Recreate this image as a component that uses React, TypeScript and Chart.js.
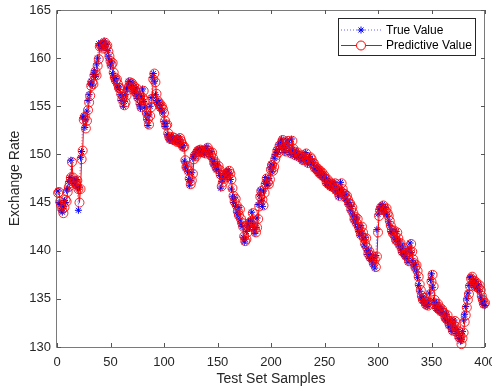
import React, { useEffect, useRef } from "react";
import { Chart, registerables } from "chart.js";

Chart.register(...registerables);

const xTicks = [0, 50, 100, 150, 200, 250, 300, 350, 400];
const yTicks = [130, 135, 140, 145, 150, 155, 160, 165];

const trueValues = [
  146.2, 145.0, 144.8, 144.2, 144.0, 144.6, 145.2, 145.0, 146.3, 146.5,
  147.2, 147.6, 149.4, 147.5, 147.0, 147.3, 146.8, 147.4, 146.5, 144.2,
  146.6, 149.7, 150.3, 153.8, 154.0, 152.8, 153.6, 154.5, 155.6, 156.2,
  157.3, 157.6, 157.2, 158.3, 158.7, 158.1, 159.4, 160.0, 161.5, 161.3,
  161.6, 161.0, 161.5, 161.8, 161.2, 161.4, 160.8, 160.2, 159.8, 159.2,
  159.6, 158.4, 158.0, 157.6, 157.9, 157.2, 156.8, 157.0, 156.2, 155.6,
  156.1, 155.0, 155.5, 156.2, 156.8, 157.0, 157.6, 157.3, 157.5, 156.9,
  157.2, 156.6, 156.3, 156.9, 155.8, 156.2, 155.2, 154.8, 156.0, 156.8,
  155.5, 154.9, 154.2, 153.6, 153.0, 154.1, 155.0, 155.9, 158.0, 158.4,
  157.6, 156.2, 155.6, 155.2, 155.4, 154.8, 155.1, 154.6, 154.3, 153.4,
  152.9, 153.2, 152.1, 151.8, 151.5, 151.6, 151.9, 151.4, 151.7, 151.5,
  151.3, 151.6, 151.2, 151.8, 151.4, 151.0, 150.7, 150.9, 149.3, 148.6,
  148.9, 148.2, 147.4, 146.8, 147.3, 148.1, 149.6, 150.0, 149.8, 150.3,
  150.5, 150.2, 150.6, 150.4, 150.1, 150.5, 150.3, 150.0, 150.6, 150.8,
  150.4, 150.2, 149.8, 150.3, 149.5, 149.0, 149.3, 148.6, 148.4, 148.9,
  148.3, 147.8, 146.5, 147.2, 147.6, 148.0, 147.6, 148.2, 147.8, 148.4,
  148.0, 147.4, 146.4, 145.6, 145.0, 145.5, 144.6, 144.0, 143.6, 144.5,
  143.2, 142.8, 142.5, 141.4, 140.9, 141.2, 142.0, 142.6, 143.0, 142.4,
  143.2, 144.0, 142.8, 142.2, 141.8, 142.4, 143.4, 144.8, 145.8, 146.3,
  145.2, 144.6, 146.2, 147.0, 147.6, 147.0, 146.8, 147.5, 148.6, 149.0,
  148.2, 148.8, 149.6, 150.0, 150.5, 150.2, 151.0, 150.6, 151.3, 151.6,
  151.0, 150.6, 150.2, 150.8, 151.5, 151.2, 150.4, 150.0, 151.6, 150.5,
  150.2, 149.8, 150.0, 150.3, 149.8, 149.6, 150.0, 149.7, 149.3, 149.6,
  149.8, 150.2, 149.4, 149.0, 149.3, 149.8, 149.5, 149.0, 149.2, 148.5,
  148.8, 148.3, 148.6, 148.0, 148.4, 147.8, 148.2, 147.6, 147.9, 147.4,
  147.0, 147.5, 146.8, 147.2, 146.6, 147.0, 146.5, 146.8, 147.1, 146.2,
  146.6, 146.0, 145.6, 146.3, 147.1, 146.4, 145.8, 146.0, 145.4, 145.8,
  145.2, 144.8, 145.0, 144.2, 144.6, 143.8, 143.2, 143.6, 142.8, 143.4,
  142.4, 142.0, 141.6, 142.6, 141.8, 141.2, 140.6, 141.4, 140.2, 139.6,
  140.0, 139.2, 139.6, 139.0, 138.6, 139.2, 138.2, 139.5, 142.2, 143.8,
  144.3, 144.6, 144.2, 144.8, 144.4, 144.0, 144.5, 143.8, 143.6, 143.0,
  142.6, 142.0, 141.8, 142.2, 141.4, 141.0, 142.0, 141.2, 140.6, 140.9,
  140.2, 139.8, 140.4, 139.6, 139.4, 139.9, 139.2, 138.8, 140.2, 140.8,
  139.8, 139.0, 138.6, 138.2, 138.6, 137.8, 137.2, 136.4, 135.8, 135.2,
  134.8, 135.2, 134.6, 134.3, 134.8, 134.2, 134.5, 135.6, 137.0, 137.6,
  136.2, 134.8, 134.4, 134.0, 134.6, 133.8, 134.2, 133.6, 134.0, 133.5,
  133.6, 133.0, 132.8, 133.4, 132.6, 132.2, 132.8, 132.0, 131.6, 132.4,
  132.8, 132.0, 131.4, 131.8, 130.9, 131.2, 130.6, 130.8, 131.6, 132.8,
  133.4, 134.2, 135.0, 135.6, 136.4, 137.2, 137.3, 136.6, 137.0, 136.2,
  136.8, 136.4, 136.0, 136.5, 135.8, 135.2, 134.8, 134.4, 134.7, 134.3,
];

const predictedValues = [
  146.0, 146.1, 145.1, 144.7, 144.3, 143.9, 144.5, 145.3, 145.1, 146.1,
  146.6, 147.0, 147.6, 149.2, 147.6, 147.1, 147.2, 146.9, 147.3, 146.4,
  145.0, 146.4, 149.5, 150.4, 153.6, 153.9, 152.7, 153.5, 154.6, 155.4,
  156.1, 157.1, 157.5, 157.3, 158.2, 158.6, 158.2, 159.2, 159.9, 161.2,
  161.3, 161.4, 161.0, 161.4, 161.6, 161.2, 161.3, 160.7, 160.2, 159.7,
  159.3, 159.5, 158.5, 158.0, 157.7, 157.8, 157.3, 156.9, 156.9, 156.3,
  155.7, 156.0, 155.1, 155.4, 156.1, 156.7, 157.0, 157.5, 157.3, 157.4,
  156.9, 157.1, 156.6, 156.4, 156.8, 155.9, 156.1, 155.3, 154.9, 155.9,
  156.6, 155.6, 154.9, 154.3, 153.7, 153.1, 154.0, 154.9, 155.8, 157.8,
  158.4, 157.5, 156.3, 155.6, 155.3, 155.3, 154.9, 155.0, 154.7, 154.3,
  153.5, 153.0, 153.1, 152.2, 151.8, 151.6, 151.6, 151.8, 151.5, 151.7,
  151.5, 151.3, 151.5, 151.3, 151.7, 151.4, 151.1, 150.8, 150.8, 149.4,
  148.7, 148.8, 148.3, 147.5, 146.9, 147.3, 148.0, 149.5, 149.9, 149.8,
  150.2, 150.4, 150.3, 150.5, 150.4, 150.2, 150.4, 150.3, 150.1, 150.5,
  150.7, 150.4, 150.2, 149.9, 150.2, 149.6, 149.1, 149.2, 148.7, 148.5,
  148.8, 148.4, 147.9, 146.7, 147.1, 147.5, 147.9, 147.7, 148.1, 147.9,
  148.3, 148.0, 147.4, 146.5, 145.7, 145.1, 145.4, 144.7, 144.1, 143.7,
  144.3, 143.3, 142.9, 142.5, 141.5, 141.0, 141.2, 141.9, 142.5, 142.9,
  142.5, 143.1, 143.9, 142.9, 142.3, 141.9, 142.4, 143.3, 144.6, 145.6,
  146.2, 145.3, 144.7, 146.0, 146.9, 147.5, 147.1, 146.9, 147.4, 148.4,
  148.9, 148.3, 148.7, 149.5, 149.9, 150.4, 150.2, 150.9, 150.6, 151.2,
  151.5, 151.1, 150.7, 150.3, 150.7, 151.4, 151.2, 150.5, 150.1, 151.4,
  150.6, 150.3, 149.9, 150.0, 150.2, 149.9, 149.7, 149.9, 149.7, 149.4,
  149.5, 149.7, 150.1, 149.5, 149.1, 149.3, 149.7, 149.5, 149.1, 149.1,
  148.6, 148.7, 148.4, 148.5, 148.1, 148.3, 147.9, 148.1, 147.7, 147.8,
  147.5, 147.1, 147.4, 146.9, 147.1, 146.7, 146.9, 146.6, 146.8, 147.0,
  146.3, 146.5, 146.1, 145.7, 146.2, 147.0, 146.4, 145.9, 145.9, 145.5,
  145.7, 145.3, 144.9, 144.9, 144.3, 144.5, 143.9, 143.3, 143.5, 142.9,
  143.3, 142.5, 142.1, 141.7, 142.5, 141.9, 141.3, 140.7, 141.3, 140.3,
  139.7, 139.9, 139.3, 139.5, 139.1, 138.7, 139.1, 138.3, 139.4, 141.9,
  143.6, 144.2, 144.5, 144.3, 144.7, 144.4, 144.1, 144.4, 143.9, 143.6,
  143.1, 142.6, 142.1, 141.8, 142.1, 141.5, 141.1, 141.9, 141.3, 140.7,
  140.8, 140.3, 139.9, 140.3, 139.7, 139.5, 139.8, 139.3, 138.9, 140.0,
  140.7, 139.9, 139.1, 138.7, 138.3, 138.5, 137.9, 137.3, 136.5, 135.9,
  135.3, 134.9, 135.1, 134.7, 134.4, 134.7, 134.3, 134.5, 135.5, 136.8,
  137.5, 136.3, 134.9, 134.5, 134.1, 134.5, 133.9, 134.1, 133.7, 133.9,
  133.6, 133.5, 133.1, 132.9, 133.3, 132.7, 132.3, 132.7, 132.1, 131.7,
  132.3, 132.7, 132.1, 131.5, 131.7, 131.0, 131.1, 130.3, 130.9, 131.5,
  132.6, 133.3, 134.1, 134.9, 135.5, 136.3, 137.1, 137.3, 136.7, 136.9,
  136.3, 136.7, 136.4, 136.1, 136.4, 135.9, 135.3, 134.9, 134.5, 134.6,
];

const seriesNames = ["True Value", "Predictive Value"];
const AXIS_COLOR = "#262626";
const FONT = "'Liberation Sans', Arial, sans-serif";

const framePlugin = {
  id: "matlabFrame",
  beforeDatasetsDraw(chart: any) {
    const { ctx, chartArea, scales } = chart;
    const { left, right, top, bottom } = chartArea;
    ctx.save();
    ctx.strokeStyle = "#7a7a7a";
    ctx.lineWidth = 1;
    ctx.beginPath();
    ctx.rect(Math.round(left) - 0.5, Math.round(top) + 0.5, Math.round(right - left), Math.round(bottom - top));
    ctx.stroke();
    ctx.strokeStyle = "#555555";
    ctx.beginPath();
    const tl = 4;
    xTicks.forEach((v) => {
      const px = Math.round(scales.x.getPixelForValue(v)) + 0.5;
      ctx.moveTo(px, bottom);
      ctx.lineTo(px, bottom - tl);
      ctx.moveTo(px, top);
      ctx.lineTo(px, top + tl);
    });
    yTicks.forEach((v) => {
      const py = Math.round(scales.y.getPixelForValue(v)) + 0.5;
      ctx.moveTo(left, py);
      ctx.lineTo(left + tl, py);
      ctx.moveTo(right, py);
      ctx.lineTo(right - tl, py);
    });
    ctx.stroke();
    ctx.restore();
  },
};

const legendPlugin = {
  id: "matlabLegend",
  afterDraw(chart: any) {
    const { ctx } = chart;
    const bx = 338.5, by = 18.5, bw = 137, bh = 37;
    ctx.save();
    ctx.fillStyle = "#ffffff";
    ctx.fillRect(bx, by, bw, bh);
    ctx.strokeStyle = AXIS_COLOR;
    ctx.lineWidth = 1;
    ctx.strokeRect(bx, by, bw, bh);
    const rows = [30, 45.5];
    ctx.strokeStyle = "rgba(60,60,255,0.8)";
    ctx.setLineDash([1, 2]);
    ctx.beginPath();
    ctx.moveTo(341, rows[0]);
    ctx.lineTo(382, rows[0]);
    ctx.stroke();
    ctx.setLineDash([]);
    ctx.strokeStyle = "#0000ff";
    ctx.beginPath();
    const r = 3.5, cx = 361, cy = rows[0];
    ctx.moveTo(cx - r, cy); ctx.lineTo(cx + r, cy);
    ctx.moveTo(cx, cy - r); ctx.lineTo(cx, cy + r);
    const d = r * 0.707;
    ctx.moveTo(cx - d, cy - d); ctx.lineTo(cx + d, cy + d);
    ctx.moveTo(cx - d, cy + d); ctx.lineTo(cx + d, cy - d);
    ctx.stroke();
    ctx.strokeStyle = "#ff0000";
    ctx.beginPath();
    ctx.moveTo(341, rows[1]);
    ctx.lineTo(382, rows[1]);
    ctx.stroke();
    ctx.fillStyle = "#ffffff";
    ctx.beginPath();
    ctx.arc(361, rows[1], 4.5, 0, Math.PI * 2);
    ctx.fill();
    ctx.stroke();
    ctx.fillStyle = "#000000";
    ctx.font = `12px ${FONT}`;
    ctx.textAlign = "left";
    ctx.textBaseline = "middle";
    ctx.fillText(seriesNames[0], 386, rows[0] + 0.5);
    ctx.fillText(seriesNames[1], 386, rows[1] + 0.5);
    ctx.restore();
  },
};

export default function App() {
  const canvasRef = useRef<HTMLCanvasElement | null>(null);

  useEffect(() => {
    document.body.style.margin = "0";
    const canvas = canvasRef.current;
    if (!canvas) return;
    const chart = new Chart(canvas, {
      type: "line",
      data: {
        datasets: [
          {
            label: seriesNames[1],
            data: predictedValues.map((v, i) => ({ x: i + 1, y: v })),
            borderColor: "#ff0000",
            borderWidth: 1,
            pointStyle: "circle",
            pointRadius: 4.5,
            pointBorderColor: "rgba(255,0,0,0.85)",
            pointBackgroundColor: "rgba(0,0,0,0)",
            pointBorderWidth: 1,
            tension: 0,
            clip: false,
            order: 0,
          },
          {
            label: seriesNames[0],
            data: trueValues.map((v, i) => ({ x: i + 1, y: v })),
            borderColor: "rgba(60,60,255,0.8)",
            borderWidth: 1,
            borderDash: [1, 2],
            pointStyle: "star",
            pointRadius: 3.5,
            pointBorderColor: "#0000ff",
            pointBackgroundColor: "#0000ff",
            pointBorderWidth: 1,
            tension: 0,
            clip: false,
            order: 1,
          },
        ],
      },
      options: {
        animation: false,
        responsive: false,
        maintainAspectRatio: false,
        layout: { padding: { top: 10, right: 7, left: 0, bottom: 0 } },
        plugins: { legend: { display: false }, tooltip: { enabled: false } },
        scales: {
          x: {
            type: "linear",
            min: 0,
            max: 400,
            afterBuildTicks: (axis: any) => {
              axis.ticks = xTicks.map((v) => ({ value: v }));
            },
            afterFit: (axis: any) => {
              axis.height = 43;
              axis.paddingLeft = 0;
              axis.paddingRight = 0;
            },
            grid: { display: false, drawTicks: false },
            border: { display: false },
            ticks: {
              color: AXIS_COLOR,
              font: { family: FONT, size: 13 },
              padding: 8,
              maxRotation: 0,
              autoSkip: false,
            },
            title: {
              display: true,
              text: "Test Set Samples",
              color: AXIS_COLOR,
              font: { family: FONT, size: 14 },
              padding: { top: 0, bottom: 2 },
            },
          },
          y: {
            type: "linear",
            min: 130,
            max: 165,
            afterBuildTicks: (axis: any) => {
              axis.ticks = yTicks.map((v) => ({ value: v }));
            },
            afterFit: (axis: any) => {
              axis.width = 57;
              axis.paddingTop = 0;
              axis.paddingBottom = 0;
            },
            grid: { display: false, drawTicks: false },
            border: { display: false },
            ticks: {
              color: AXIS_COLOR,
              font: { family: FONT, size: 13 },
              padding: 6,
              autoSkip: false,
            },
            title: {
              display: true,
              text: "Exchange Rate",
              color: AXIS_COLOR,
              font: { family: FONT, size: 14 },
              padding: { top: 7, bottom: 0 },
            },
          },
        },
      },
      plugins: [framePlugin, legendPlugin],
    });
    return () => chart.destroy();
  }, []);

  return (
    <div style={{ width: 492, height: 390 }}>
      <canvas ref={canvasRef} width={492} height={390} style={{ width: 492, height: 390, display: "block" }} />
    </div>
  );
}
